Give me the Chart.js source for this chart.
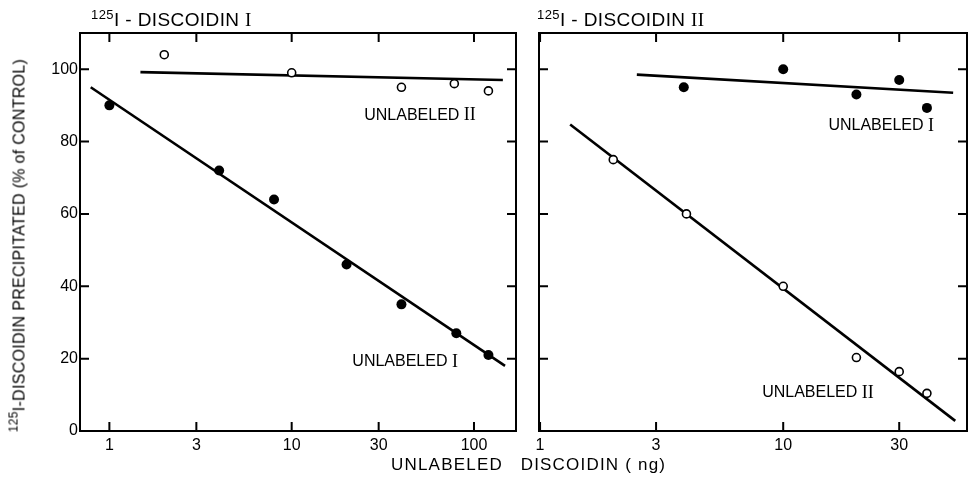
<!DOCTYPE html>
<html>
<head>
<meta charset="utf-8">
<script src="https://cdn.jsdelivr.net/npm/chart.js@4.4.0/dist/chart.umd.min.js"></script>
<style>
  body { margin: 0; background: #fff; width: 969px; height: 485px; position: relative; overflow: hidden;
         font-family: "Liberation Sans", Arial, sans-serif; color: #000; }
  canvas { position: absolute; top: 0; }
  .txt { position: absolute; white-space: pre; line-height: 18px; }
  .sup { position: relative; top: -7px; font-size: 13px; }
  .rn { font-family: "Liberation Serif", serif; }
</style>
</head>
<body>
<canvas id="leftChart" width="540" height="485" style="left:0"></canvas>
<canvas id="rightChart" width="469" height="485" style="left:520px"></canvas>

<div class="txt" style="left:91px;top:11px;font-size:19px;letter-spacing:0.4px"><span class="sup">125</span>I - DISCOIDIN <span class="rn">I</span></div>
<div class="txt" style="left:537px;top:11px;font-size:19px;letter-spacing:0.4px"><span class="sup">125</span>I - DISCOIDIN <span class="rn">II</span></div>
<div class="txt" style="left:-180px;top:236px;width:400px;text-align:center;font-size:16px;letter-spacing:0.3px;transform:rotate(-90deg)"><span class="sup" style="font-size:12px">125</span>I-DISCOIDIN PRECIPITATED (% of CONTROL)</div>
<div class="txt" style="left:391px;top:456px;font-size:17px;letter-spacing:1.2px">UNLABELED   DISCOIDIN ( ng)</div>

<script>
// tick values
const yTicks = [0, 20, 40, 60, 80, 100];
const xTicksLeft = [1, 3, 10, 30, 100];
const xTicksRight = [1, 3, 10, 30];

// left panel: 125I-discoidin I
const leftIX = [1, 4, 8, 20, 40, 80, 120];          // unlabeled I (filled)
const leftIY = [90, 72, 64, 46, 35, 27, 21];
const leftIIX = [2, 10, 40, 78, 120];               // unlabeled II (open)
const leftIIY = [104, 99, 95, 96, 94];
const leftFitIX = [0.79, 148];
const leftFitIY = [95, 18];
const leftFitIIX = [1.48, 144];
const leftFitIIY = [99.2, 97];

// right panel: 125I-discoidin II
const rightIX = [3.9, 10, 20, 30, 39];              // unlabeled I (filled)
const rightIY = [95, 100, 93, 97, 89.3];
const rightIIX = [2, 4, 10, 20, 30, 39];            // unlabeled II (open)
const rightIIY = [75, 60, 40, 20.3, 16.4, 10.4];
const rightFitIX = [2.5, 50];
const rightFitIY = [98.5, 93.5];
const rightFitIIX = [1.33, 51];
const rightFitIIY = [84.7, 2.8];

const pts = (xs, ys) => xs.map((x, i) => ({ x: x, y: ys[i] }));

// box round the plot, inward ticks, and the in-plot labels
const frame = {
  id: 'frame',
  afterDraw(chart, args, opts) {
    const { ctx, chartArea: a, scales: { x, y } } = chart;
    ctx.save();
    ctx.strokeStyle = '#000';
    ctx.lineWidth = 2;
    ctx.strokeRect(a.left, a.top, a.right - a.left, a.bottom - a.top);
    ctx.beginPath();
    const len = 9;
    y.ticks.forEach(t => {
      const py = y.getPixelForValue(t.value);
      ctx.moveTo(a.left, py); ctx.lineTo(a.left + len, py);
      ctx.moveTo(a.right, py); ctx.lineTo(a.right - len, py);
    });
    x.ticks.forEach(t => {
      const px = x.getPixelForValue(t.value);
      ctx.moveTo(px, a.top); ctx.lineTo(px, a.top + len);
      ctx.moveTo(px, a.bottom); ctx.lineTo(px, a.bottom - len);
    });
    ctx.stroke();

    ctx.fillStyle = '#000';
    ctx.textBaseline = 'middle';
    (opts.notes || []).forEach(n => {
      ctx.font = '16px "Liberation Sans", Arial';
      const w1 = ctx.measureText(n.text + ' ').width;
      ctx.font = '18px "Liberation Serif", serif';
      const w2 = ctx.measureText(n.num).width;
      let px = x.getPixelForValue(n.x) - (w1 + w2) / 2;
      const py = y.getPixelForValue(n.y);
      ctx.textAlign = 'left';
      ctx.font = '16px "Liberation Sans", Arial';
      ctx.fillText(n.text + ' ', px, py);
      ctx.font = '18px "Liberation Serif", serif';
      ctx.fillText(n.num, px + w1, py);
    });
    ctx.restore();
  }
};

function makePanel(id, p) {
  return new Chart(document.getElementById(id), {
    type: 'scatter',
    data: {
      datasets: [
        { data: pts(p.filledX, p.filledY), pointRadius: 5, pointBackgroundColor: '#000',
          pointBorderColor: '#000', pointBorderWidth: 0, order: 0 },
        { data: pts(p.openX, p.openY), pointRadius: 4, pointBackgroundColor: '#fff',
          pointBorderColor: '#000', pointBorderWidth: 1.6, order: 0 },
        { type: 'line', data: pts(p.fitAX, p.fitAY), borderColor: '#000', borderWidth: 2.6,
          pointRadius: 0, fill: false, order: 1 },
        { type: 'line', data: pts(p.fitBX, p.fitBY), borderColor: '#000', borderWidth: 2.6,
          pointRadius: 0, fill: false, order: 1 }
      ]
    },
    options: {
      responsive: false,
      animation: false,
      devicePixelRatio: 1,
      layout: { padding: { top: 33, right: p.padRight, left: 0, bottom: 0 } },
      plugins: {
        legend: { display: false },
        tooltip: { enabled: false },
        frame: { notes: p.notes }
      },
      scales: {
        x: {
          type: 'logarithmic',
          min: p.xMin, max: p.xMax,
          grid: { display: false, drawTicks: false },
          border: { display: false },
          afterBuildTicks: s => { s.ticks = p.xTicks.map(v => ({ value: v })); },
          afterFit: s => { s.height = 54; },
          ticks: {
            autoSkip: false, maxRotation: 0, padding: 5, color: '#000',
            font: { family: '"Liberation Sans", Arial', size: 16 },
            callback: v => String(v)
          }
        },
        y: {
          min: 0, max: 110,
          grid: { display: false, drawTicks: false },
          border: { display: false },
          afterBuildTicks: s => { s.ticks = yTicks.map(v => ({ value: v })); },
          afterFit: s => { s.width = p.yWidth; },
          ticks: {
            display: p.yLabels, padding: 2, color: '#000',
            font: { family: '"Liberation Sans", Arial', size: 16 }
          }
        }
      }
    },
    plugins: [frame]
  });
}

makePanel('leftChart', {
  filledX: leftIX, filledY: leftIY, openX: leftIIX, openY: leftIIY,
  fitAX: leftFitIX, fitAY: leftFitIY, fitBX: leftFitIIX, fitBY: leftFitIIY,
  xMin: 0.69, xMax: 170, xTicks: xTicksLeft, yWidth: 80, yLabels: true, padRight: 24,
  notes: [
    { text: 'UNLABELED', num: 'II', x: 50.6, y: 87.3 },
    { text: 'UNLABELED', num: 'I', x: 41.9, y: 19.1 }
  ]
});

makePanel('rightChart', {
  filledX: rightIX, filledY: rightIY, openX: rightIIX, openY: rightIIY,
  fitAX: rightFitIX, fitAY: rightFitIY, fitBX: rightFitIIX, fitBY: rightFitIIY,
  xMin: 0.99, xMax: 57, xTicks: xTicksRight, yWidth: 19, yLabels: false, padRight: 22,
  notes: [
    { text: 'UNLABELED', num: 'I', x: 25.3, y: 84.3 },
    { text: 'UNLABELED', num: 'II', x: 13.9, y: 10.5 }
  ]
});
</script>
</body>
</html>
